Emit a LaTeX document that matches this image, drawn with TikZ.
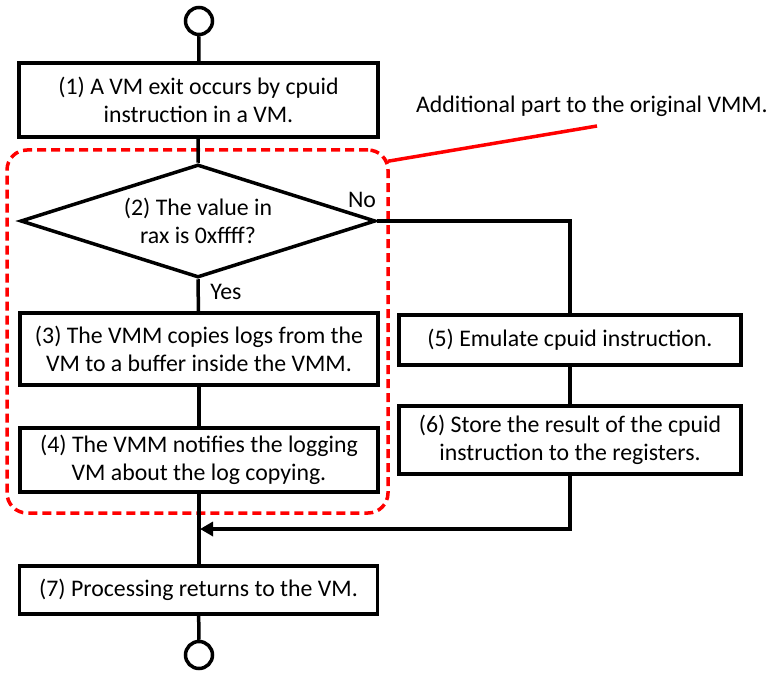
\documentclass[tikz,border=0pt]{standalone}
\usepackage{fontspec}
\setmainfont{Carlito}
\usetikzlibrary{shapes.geometric,arrows.meta}
\begin{document}
\begin{tikzpicture}[x=1pt,y=-1pt,
  every node/.style={font=\fontsize{23.8}{27.5}\selectfont, text=black},
  proc/.style={draw=black, line width=3.5pt, rectangle, align=center, inner sep=0pt},
  term/.style={draw=black, line width=3.5pt, circle, minimum size=27pt, inner sep=0pt},
  cond/.style={draw=black, line width=3.5pt, diamond, aspect=3.14, align=center, inner sep=0pt, minimum width=355pt, minimum height=113pt},
  flow/.style={draw=black, line width=3.5pt},
  grpbox/.style={draw=red, line width=3.5pt, dash pattern=on 9pt off 5pt, rounded corners=20pt},
  lbl/.style={inner sep=0pt}
]
\useasboundingbox (0,0) rectangle (774,674);
\node[term] (c1) at (199,21) {};
\node[proc, minimum width=359pt, minimum height=74pt] (b1) at (198.5,100) {(1) A VM exit occurs by cpuid\\instruction in a VM.};
\node[cond] (d2) at (198,221) {(2) The value in\\rax is 0xffff?};
\node[proc, minimum width=358pt, minimum height=72pt] (b3) at (199,349) {(3) The VMM copies logs from the\\VM to a buffer inside the VMM.};
\node[proc, minimum width=358pt, minimum height=64pt] (b4) at (199,460) {(4) The VMM notifies the logging\\VM about the log copying.};
\node[proc, minimum width=342pt, minimum height=50pt] (b5) at (570,340) {(5) Emulate cpuid instruction.};
\node[proc, minimum width=342pt, minimum height=68pt] (b6) at (570,440) {(6) Store the result of the cpuid\\instruction to the registers.};
\node[proc, minimum width=358pt, minimum height=48pt] (b7) at (198.5,590) {(7) Processing returns to the VM.};
\node[term] (c2) at (199,655) {};
\node[grpbox, minimum width=381pt, minimum height=363pt, inner sep=0pt] (grp) at (197.5,331.5) {};
\node[lbl] (note) at (592,106) {Additional part to the original VMM.};
\coordinate (noteend) at (597,126);
\node[lbl] (nolbl) at (362,200) {No};
\node[lbl] (yeslbl) at (226,292) {Yes};
\coordinate (join) at (b6.south |- 0,529);
\coordinate (merge) at (199,529);

\draw[flow] (c1) -- (b1);
\draw[flow] (b1) -- (d2.north);
\draw[flow] (d2.south) -- (b3);
\draw[flow] (d2.east) -| (b5.north);
\draw[flow] (b3) -- (b4);
\draw[flow] (b4.south) -- (b7.north -| b4.south);
\draw[flow] (b5) -- (b6);
\draw[flow, -{Triangle[length=13pt,width=14pt]}] (b6.south) -- (join) -- ([xshift=1pt]merge);
\draw[flow] (b7) -- (c2);
\draw[red, line width=3.5pt] ([xshift=-2pt,yshift=-13pt]grp.north east) -- (noteend);
\end{tikzpicture}
\end{document}
